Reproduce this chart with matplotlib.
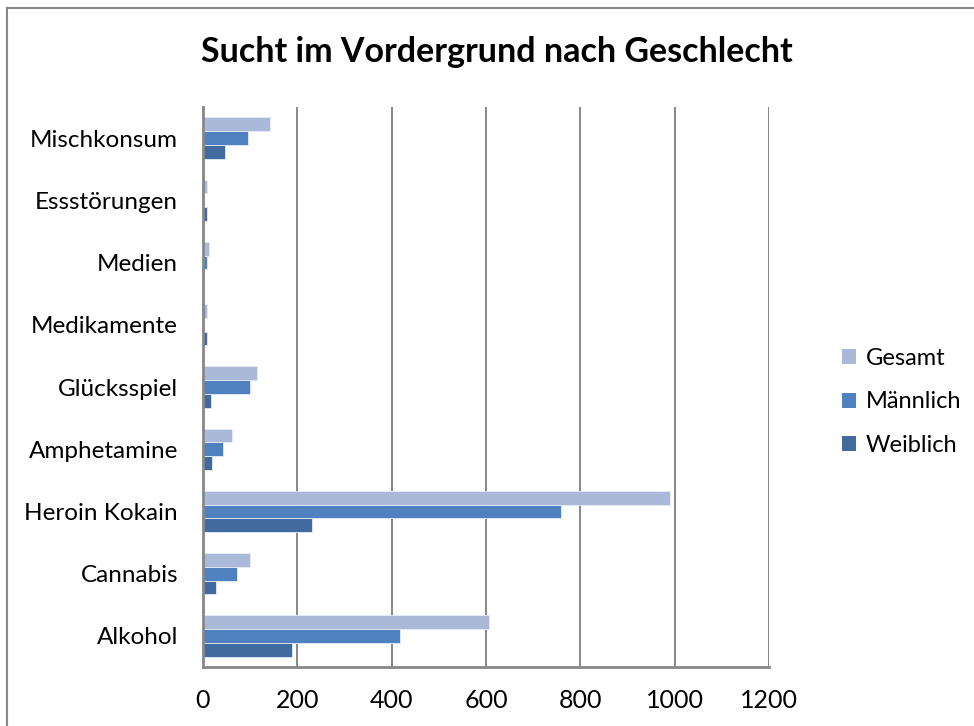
import numpy as np
import matplotlib.pyplot as plt
from matplotlib.patches import Patch
from matplotlib.lines import Line2D

plt.rcParams['font.family'] = ['Lato', 'DejaVu Sans']

# data (bottom to top, as drawn)
kategorien = ['Alkohol', 'Cannabis', 'Heroin Kokain', 'Amphetamine', 'Glücksspiel',
              'Medikamente', 'Medien', 'Essstörungen', 'Mischkonsum']
gesamt = [606, 100, 991, 62, 115, 9, 12, 8, 142]
maennlich = [418, 72, 759, 42, 99, 0, 9, 0, 95]
weiblich = [188, 27, 232, 20, 16, 9, 3, 8, 47]
serien = ['Gesamt', 'Männlich', 'Weiblich']
farben = ['#AAB9D8', '#4F81C0', '#416A9E']
x_ticks = [0, 200, 400, 600, 800, 1000, 1200]

fig = plt.figure(figsize=(9.74, 7.26), dpi=100)
ax = fig.add_axes([203 / 974, 59 / 726, 566 / 974, 560 / 726])

y = np.arange(len(kategorien))
h = 0.222
for werte, off, farbe, name in zip([gesamt, maennlich, weiblich], [h, 0, -h], farben, serien):
    ax.barh(y + off, werte, height=h, color=farbe, edgecolor='#E6ECF5', linewidth=0.6,
            label=name, zorder=3)

ax.set_xlim(0, 1200)
ax.set_ylim(-0.5, len(kategorien) - 0.5)
ax.set_xticks(x_ticks)
ax.set_xticklabels([str(t) for t in x_ticks], fontsize=18)
ax.set_yticks(y)
ax.set_yticklabels(kategorien, fontsize=17.5)
ax.tick_params(axis='both', length=0)
ax.tick_params(axis='x', pad=16)
ax.tick_params(axis='y', pad=18)

ax.grid(axis='x', color='#878787', linewidth=1.4, zorder=0)
ax.spines['top'].set_visible(False)
ax.spines['right'].set_visible(False)
for s in ['left', 'bottom']:
    ax.spines[s].set_color('#878787')
    ax.spines[s].set_linewidth(2)
    ax.spines[s].set_zorder(4)

fig.text(497 / 974, 1 - 52 / 726, 'Sucht im Vordergrund nach Geschlecht', ha='center', va='center',
         fontsize=24.5, fontweight='bold')

handles = [Patch(facecolor=f, edgecolor='none') for f in farben]
fig.legend(handles, serien, loc='center left', bbox_to_anchor=(821 / 974, 1 - 402 / 726),
           frameon=False, fontsize=17, handlelength=0.6, handleheight=0.6,
           handletextpad=0.4, labelspacing=0.95)

# outer chart border (left and top visible)
fig.add_artist(Line2D([6.5 / 974, 6.5 / 974], [0, 1 - 7.5 / 726], color='#878787', linewidth=1.5))
fig.add_artist(Line2D([6.5 / 974, 1], [1 - 7.5 / 726, 1 - 7.5 / 726], color='#878787', linewidth=1.5))

fig.savefig('out.png', dpi=100)
